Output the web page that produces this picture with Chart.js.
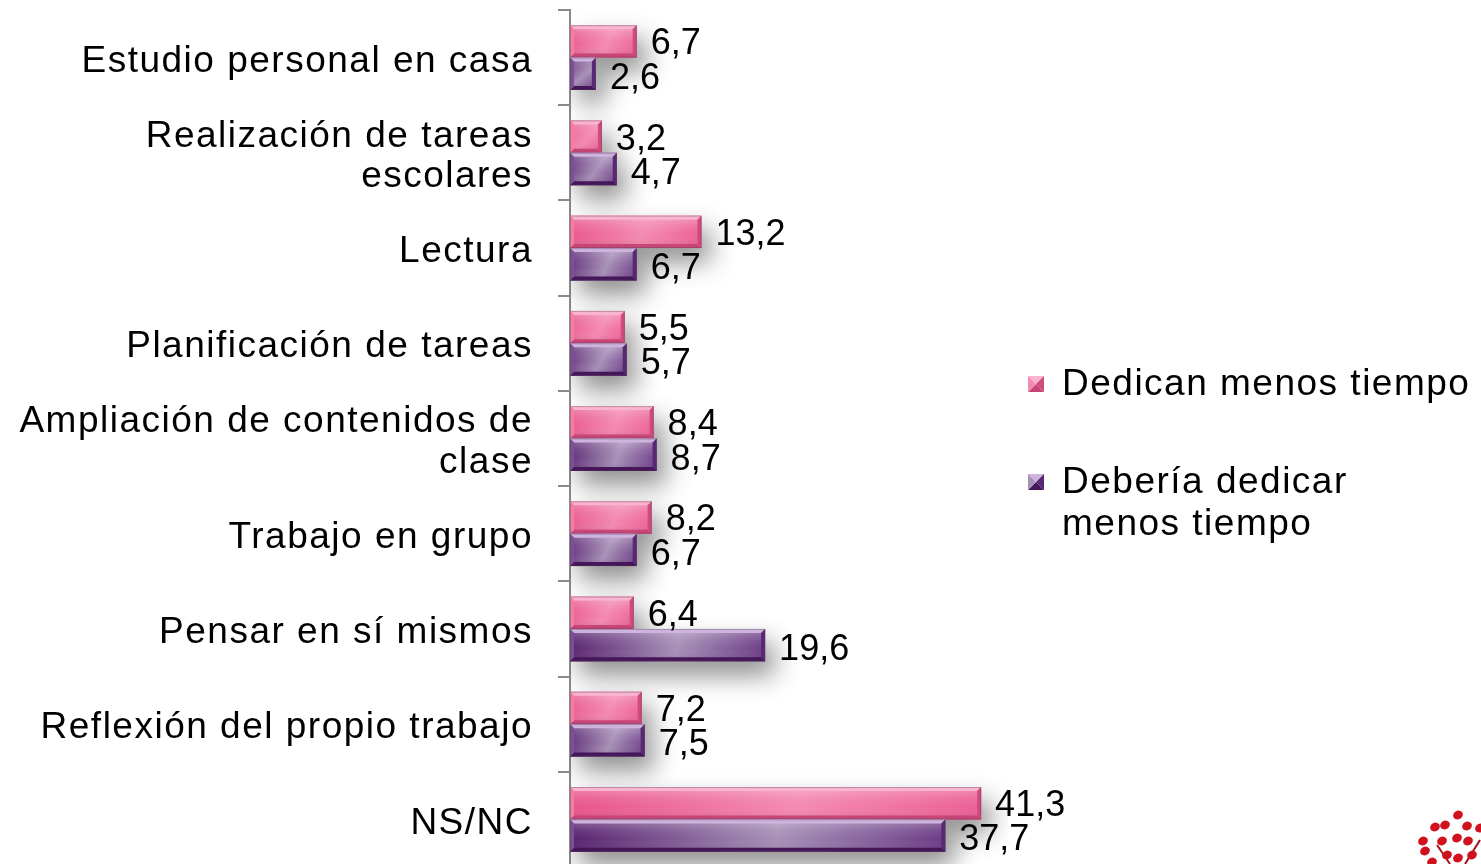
<!DOCTYPE html>
<html>
<head>
<meta charset="utf-8">
<script src="https://cdn.jsdelivr.net/npm/chart.js@4.4.0/dist/chart.umd.min.js"></script>
<style>
  html, body { margin: 0; padding: 0; background: #fff; overflow: hidden; }
  #wrap { width: 1481px; height: 864px; overflow: hidden; }
</style>
</head>
<body>
<div id="wrap"><canvas id="c" width="1481" height="870"></canvas></div>
<script>
// ---- data ----
const categories = [
  'Estudio personal en casa',
  ['Realización de tareas', 'escolares'],
  'Lectura',
  'Planificación de tareas',
  ['Ampliación de contenidos de', 'clase'],
  'Trabajo en grupo',
  'Pensar en sí mismos',
  'Reflexión del propio trabajo',
  'NS/NC'
];
const dedicanMenos = [6.7, 3.2, 13.2, 5.5, 8.4, 8.2, 6.4, 7.2, 41.3];
const deberiaDedicarMenos = [2.6, 4.7, 6.7, 5.7, 8.7, 6.7, 19.6, 7.5, 37.7];
const seriesNames = ['Dedican menos tiempo', 'Debería dedicar menos tiempo'];
const legendLines = [['Dedican menos tiempo'], ['Debería dedicar', 'menos tiempo']];

// ---- styles ----
const FONT = '"Liberation Sans", Arial, Helvetica, sans-serif';
const palettes = [
  { base: '#EE6597', face: ['#E8558A', '#F48AB0', '#EC6095'], top: '#F9B5D0', bottom: '#C84578', left: '#F27DA6', right: '#D04C7F' },
  { base: '#7E5592', face: ['#57226F', '#A890B8', '#6C3C86'], top: '#CFB3DF', bottom: '#45165A', left: '#7B5094', right: '#592773' }
];

function fmt(v) { return String(v).replace('.', ','); }

function drawBevelRect(ctx, x0, y0, x1, y1, pal) {
  const w = x1 - x0, h = y1 - y0;
  if (w <= 0 || h <= 0) return;
  const b = Math.min(4, w / 3, h / 3);
  const g = ctx.createLinearGradient(x0, y0, x1, y1);
  g.addColorStop(0, pal.face[0]);
  g.addColorStop(0.55, pal.face[1]);
  g.addColorStop(1, pal.face[2]);
  ctx.fillStyle = g;
  ctx.fillRect(x0, y0, w, h);
  const gv = ctx.createLinearGradient(0, y0, 0, y1);
  gv.addColorStop(0, 'rgba(255,255,255,0.30)');
  gv.addColorStop(0.35, 'rgba(255,255,255,0.08)');
  gv.addColorStop(0.6, 'rgba(255,255,255,0)');
  gv.addColorStop(1, 'rgba(0,0,0,0.10)');
  ctx.fillStyle = gv;
  ctx.fillRect(x0, y0, w, h);
  const poly = (pts, col) => {
    ctx.beginPath();
    ctx.moveTo(pts[0][0], pts[0][1]);
    for (let i = 1; i < pts.length; i++) ctx.lineTo(pts[i][0], pts[i][1]);
    ctx.closePath();
    ctx.fillStyle = col;
    ctx.fill();
  };
  poly([[x0, y0], [x1, y0], [x1 - b, y0 + b], [x0 + b, y0 + b]], pal.top);
  poly([[x0, y1], [x1, y1], [x1 - b, y1 - b], [x0 + b, y1 - b]], pal.bottom);
  poly([[x0, y0], [x0 + b, y0 + b], [x0 + b, y1 - b], [x0, y1]], pal.left);
  poly([[x1, y0], [x1 - b, y0 + b], [x1 - b, y1 - b], [x1, y1]], pal.right);
  ctx.strokeStyle = 'rgba(90,60,80,0.35)';
  ctx.lineWidth = 1;
  ctx.strokeRect(x0 + 0.5, y0 + 0.5, w - 1, h - 1);
}

function drawPyramid(ctx, x, y, s, pal) {
  const cx = x + s / 2, cy = y + s / 2;
  const tri = (a, b, col) => {
    ctx.beginPath(); ctx.moveTo(a[0], a[1]); ctx.lineTo(b[0], b[1]); ctx.lineTo(cx, cy); ctx.closePath();
    ctx.fillStyle = col; ctx.fill();
  };
  tri([x, y], [x + s, y], pal.top);
  tri([x + s, y], [x + s, y + s], pal.right);
  tri([x + s, y + s], [x, y + s], pal.bottom);
  tri([x, y + s], [x, y], pal.face[1]);
}

const spacingPlugin = {
  id: 'spacing',
  beforeUpdate(chart) { chart.ctx.letterSpacing = '1.5px'; },
  beforeDraw(chart) {
    chart.ctx.letterSpacing = '1.5px';
    // nudge category labels slightly down to sit like the reference
    const sc = chart.scales.y;
    const items = sc.getLabelItems();
    if (!sc._nudged) {
      items.forEach(it => { if (it.options && it.options.translation) it.options.translation[1] += 4; });
      sc._nudged = true;
    }
  },
  afterUpdate(chart) { if (chart.scales.y) chart.scales.y._nudged = false; }
};

const fxPlugin = {
  id: 'fx',
  beforeDatasetsDraw(chart) {
    const ctx = chart.ctx;
    ctx.save();
    ctx.shadowColor = 'rgba(0,0,0,0.45)';
    ctx.shadowBlur = 26;
    ctx.shadowOffsetX = 9;
    ctx.shadowOffsetY = 14;
  },
  afterDatasetsDraw(chart) {
    const ctx = chart.ctx;
    ctx.restore();
    ctx.save();
    chart.data.datasets.forEach((ds, di) => {
      const meta = chart.getDatasetMeta(di);
      meta.data.forEach((el) => {
        const p = el.getProps(['x', 'y', 'base', 'height'], true);
        drawBevelRect(ctx, Math.min(p.base, p.x), p.y - p.height / 2, Math.max(p.base, p.x), p.y + p.height / 2, palettes[di]);
      });
    });
    ctx.letterSpacing = '0px';
    ctx.font = '36px ' + FONT;
    ctx.fillStyle = '#000';
    ctx.textAlign = 'left';
    ctx.textBaseline = 'middle';
    chart.data.datasets.forEach((ds, di) => {
      const meta = chart.getDatasetMeta(di);
      meta.data.forEach((el, i) => {
        const p = el.getProps(['x', 'y'], true);
        ctx.fillText(fmt(ds.data[i]), p.x + 14, p.y + (di === 0 ? 3 : 5));
      });
    });
    ctx.restore();
  },
  afterDraw(chart) {
    const ctx = chart.ctx;
    ctx.save();
    ctx.letterSpacing = '1.5px';
    ctx.font = '37px ' + FONT;
    ctx.fillStyle = '#000';
    ctx.textAlign = 'left';
    ctx.textBaseline = 'middle';
    const lx = chart.chartArea.right + 20;
    const starts = [385, 483];
    const lineH = 42;
    legendLines.forEach((lines, di) => {
      const y0 = starts[di];
      drawPyramid(ctx, lx, y0 - 9, 16, palettes[di]);
      lines.forEach((t, k) => {
        ctx.fillStyle = '#000';
        ctx.fillText(t, lx + 34, y0 + k * lineH);
      });
    });
    // decorative logo (corner)
    const W = chart.width, H = 864;
    const dots = [[-23, -49], [-46, -37], [-36, -39], [-14, -38], [-1, -36], [-58, -23], [-39, -23], [-24, -26], [-13, -23], [-56, -13], [-34, -9], [-23, -6], [-9, -9], [-49, -2]];
    ctx.strokeStyle = '#A8101C';
    ctx.lineWidth = 2;
    ctx.beginPath(); ctx.moveTo(W - 44, H - 19); ctx.lineTo(W - 31, H); ctx.stroke();
    ctx.beginPath(); ctx.moveTo(W - 1, H - 24); ctx.lineTo(W - 16, H); ctx.stroke();
    ctx.fillStyle = '#D0121F';
    dots.forEach(d => { ctx.beginPath(); ctx.ellipse(W + d[0], H + d[1], 5, 4.3, -0.5, 0, Math.PI * 2); ctx.fill(); });
    ctx.restore();
  }
};

Chart.defaults.font.family = FONT;

new Chart(document.getElementById('c'), {
  type: 'bar',
  data: {
    labels: categories,
    datasets: [
      { label: seriesNames[0], data: dedicanMenos, backgroundColor: palettes[0].base, borderWidth: 0 },
      { label: seriesNames[1], data: deberiaDedicarMenos, backgroundColor: palettes[1].base, borderWidth: 0 }
    ]
  },
  plugins: [spacingPlugin, fxPlugin],
  options: {
    indexAxis: 'y',
    responsive: false,
    animation: false,
    devicePixelRatio: 1,
    layout: { padding: { top: 10, bottom: 3, left: 0, right: 473 } },
    datasets: { bar: { categoryPercentage: 0.68, barPercentage: 1.0 } },
    plugins: { legend: { display: false }, tooltip: { enabled: false } },
    scales: {
      x: { display: false, min: 0, max: 44 },
      y: {
        grid: { display: true, drawOnChartArea: false, drawTicks: true, tickLength: 12, color: '#8a8a8a', lineWidth: 2, offset: true },
        border: { display: true, color: '#8a8a8a', width: 2 },
        ticks: { color: '#000', font: { family: FONT, size: 37, lineHeight: 1.1 }, padding: 25, autoSkip: false },
        afterFit(scale) {
          scale.width = 570;
          scale.paddingTop = 0;
          scale.paddingBottom = 0;
        }
      }
    }
  }
});
</script>
</body>
</html>
